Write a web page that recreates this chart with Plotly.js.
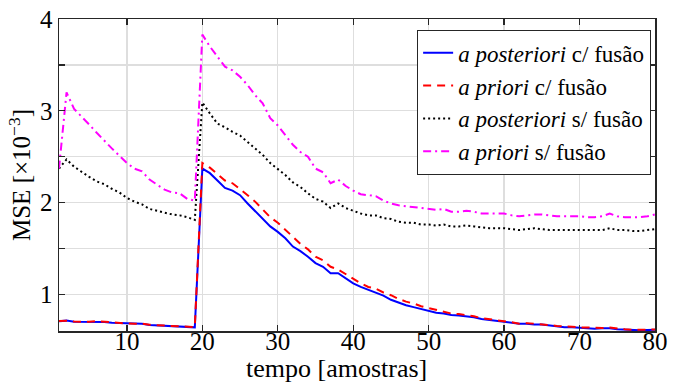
<!DOCTYPE html>
<html>
<head>
<meta charset="utf-8">
<script src="https://cdn.plot.ly/plotly-3.0.1.min.js"></script>
<style>html,body{margin:0;padding:0;background:#fff;}#chart{width:681px;height:383px;}</style>
</head>
<body>
<div id="chart"></div>
<script>
// tempo [amostras]
const tempo = Array.from({length: 80}, (_, i) => i + 1);

// a posteriori c/ fusão (×10^-3)
const posComFusao = [
  0.705, 0.713, 0.701, 0.701, 0.698, 0.705, 0.698, 0.691, 0.687, 0.684,
  0.676, 0.678, 0.665, 0.662, 0.658, 0.655, 0.651, 0.651, 0.640,
  2.37, 2.32, 2.24, 2.16, 2.13, 2.08, 1.99, 1.91, 1.82, 1.74,
  1.68, 1.61, 1.52, 1.47, 1.41, 1.34, 1.30, 1.23, 1.23, 1.17,
  1.12, 1.08, 1.05, 1.02, 0.986, 0.94, 0.91, 0.88, 0.86, 0.84,
  0.82, 0.80, 0.79, 0.775, 0.77, 0.76, 0.75, 0.73, 0.72, 0.71,
  0.705, 0.69, 0.68, 0.68, 0.67, 0.67, 0.66, 0.647, 0.64, 0.64,
  0.633, 0.63, 0.625, 0.63, 0.63, 0.62, 0.614, 0.61, 0.607, 0.61,
  0.614
];

// a priori c/ fusão
const priComFusao = [
  0.708, 0.712, 0.703, 0.700, 0.700, 0.708, 0.700, 0.694, 0.689, 0.682,
  0.679, 0.680, 0.668, 0.664, 0.661, 0.658, 0.654, 0.650, 0.642,
  2.43, 2.38, 2.31, 2.24, 2.21, 2.15, 2.08, 2.01, 1.93, 1.84,
  1.78, 1.70, 1.62, 1.55, 1.49, 1.41, 1.37, 1.30, 1.27, 1.22,
  1.17, 1.12, 1.08, 1.06, 1.02, 0.99, 0.95, 0.92, 0.90, 0.87,
  0.85, 0.83, 0.81, 0.79, 0.785, 0.775, 0.76, 0.74, 0.73, 0.72,
  0.71, 0.695, 0.68, 0.685, 0.68, 0.675, 0.665, 0.655, 0.647, 0.645,
  0.64, 0.637, 0.633, 0.633, 0.637, 0.625, 0.62, 0.614, 0.61, 0.614,
  0.617
];

// a posteriori s/ fusão
const posSemFusao = [
  2.37, 2.47, 2.39, 2.33, 2.28, 2.23, 2.20, 2.15, 2.11, 2.05,
  2.01, 1.98, 1.93, 1.91, 1.89, 1.87, 1.86, 1.84, 1.81,
  3.09, 2.97, 2.86, 2.82, 2.77, 2.73, 2.66, 2.59, 2.52, 2.43,
  2.37, 2.30, 2.22, 2.17, 2.10, 2.04, 2.01, 1.94, 1.99, 1.94,
  1.91, 1.88, 1.86, 1.86, 1.83, 1.82, 1.79, 1.78, 1.78, 1.76,
  1.76, 1.75, 1.76, 1.74, 1.74, 1.75, 1.74, 1.73, 1.72, 1.72,
  1.72, 1.71, 1.70, 1.71, 1.72, 1.71, 1.70, 1.70, 1.70, 1.70,
  1.70, 1.70, 1.70, 1.70, 1.72, 1.70, 1.70, 1.69, 1.69, 1.70,
  1.71
];

// a priori s/ fusão
const priSemFusao = [
  2.37, 3.20, 3.02, 2.94, 2.85, 2.76, 2.67, 2.59, 2.51, 2.43,
  2.37, 2.34, 2.25, 2.19, 2.14, 2.11, 2.10, 2.04, 2.02,
  3.83, 3.70, 3.59, 3.48, 3.44, 3.37, 3.28, 3.17, 3.08, 2.92,
  2.84, 2.73, 2.63, 2.55, 2.50, 2.37, 2.33, 2.21, 2.25, 2.18,
  2.13, 2.09, 2.08, 2.07, 2.02, 1.99, 1.97, 1.96, 1.95, 1.94,
  1.93, 1.92, 1.93, 1.90, 1.90, 1.91, 1.90, 1.88, 1.88, 1.88,
  1.88, 1.86, 1.85, 1.86, 1.87, 1.87, 1.86, 1.85, 1.85, 1.85,
  1.85, 1.84, 1.84, 1.85, 1.88, 1.85, 1.84, 1.84, 1.84, 1.85,
  1.87
];

const seriesNames = [
  '<i>a posteriori</i> c/ fusão',
  '<i>a priori</i> c/ fusão',
  '<i>a posteriori</i> s/ fusão',
  '<i>a priori</i> s/ fusão'
];

const xTickVals = [10, 20, 30, 40, 50, 60, 70, 80];
const yTickVals = [1, 1.5, 2, 2.5, 3, 3.5, 4];
const yTickText = ['1', '', '2', '', '3', '', '4'];

const serif = 'Liberation Serif';
const axisColor = '#262626';

const traces = [
  {x: tempo, y: posComFusao, name: seriesNames[0], mode: 'lines',
   line: {color: '#0000ff', width: 2, dash: 'solid'}},
  {x: tempo, y: priComFusao, name: seriesNames[1], mode: 'lines',
   line: {color: '#ff0000', width: 2, dash: '8px,6px'}},
  {x: tempo, y: posSemFusao, name: seriesNames[2], mode: 'lines',
   line: {color: '#000000', width: 2, dash: '2px,3px'}},
  {x: tempo, y: priSemFusao, name: seriesNames[3], mode: 'lines',
   line: {color: '#ff00ff', width: 2, dash: '8px,4px,2px,4px'}}
];

const layout = {
  width: 681, height: 383,
  margin: {l: 59, r: 26, t: 19, b: 52},
  paper_bgcolor: '#ffffff', plot_bgcolor: '#ffffff',
  font: {family: serif, size: 25, color: '#000000'},
  showlegend: true,
  legend: {
    x: 0.993, xanchor: 'right', y: 0.965, yanchor: 'top',
    bgcolor: '#ffffff', bordercolor: '#262626', borderwidth: 1.3,
    font: {family: serif, size: 23, color: '#000000'},
    itemwidth: 30, tracegroupgap: 0
  },
  xaxis: {
    range: [1, 80], tickvals: xTickVals,
    ticks: 'inside', ticklen: 6, tickwidth: 1.3, tickcolor: axisColor,
    showline: true, linecolor: axisColor, linewidth: 1.5, mirror: 'ticks',
    showgrid: true, gridcolor: '#dedede', gridwidth: 1.3,
    zeroline: false, ticklabelstandoff: -13,
    tickfont: {family: serif, size: 25, color: '#000000'},
    title: {text: ''}
  },
  yaxis: {
    range: [0.6, 4], tickvals: yTickVals, ticktext: yTickText,
    ticks: 'inside', ticklen: 6, tickwidth: 1.3, tickcolor: axisColor,
    showline: true, linecolor: axisColor, linewidth: 1.5, mirror: 'ticks',
    showgrid: true, gridcolor: '#dedede', gridwidth: 1.3,
    zeroline: false,
    tickfont: {family: serif, size: 25, color: '#000000'},
    title: {text: 'MSE [×10<sup>−3</sup>]', font: {family: serif, size: 25, color: '#000000'}, standoff: 2}
  },
  annotations: [
    {text: 'tempo [amostras]', xref: 'paper', yref: 'paper', x: 0.465, y: -0.066,
     xanchor: 'center', yanchor: 'top', showarrow: false,
     font: {family: serif, size: 26, color: '#000000'}}
  ]
};

Plotly.newPlot('chart', traces, layout, {displayModeBar: false, staticPlot: true});
</script>
</body>
</html>
